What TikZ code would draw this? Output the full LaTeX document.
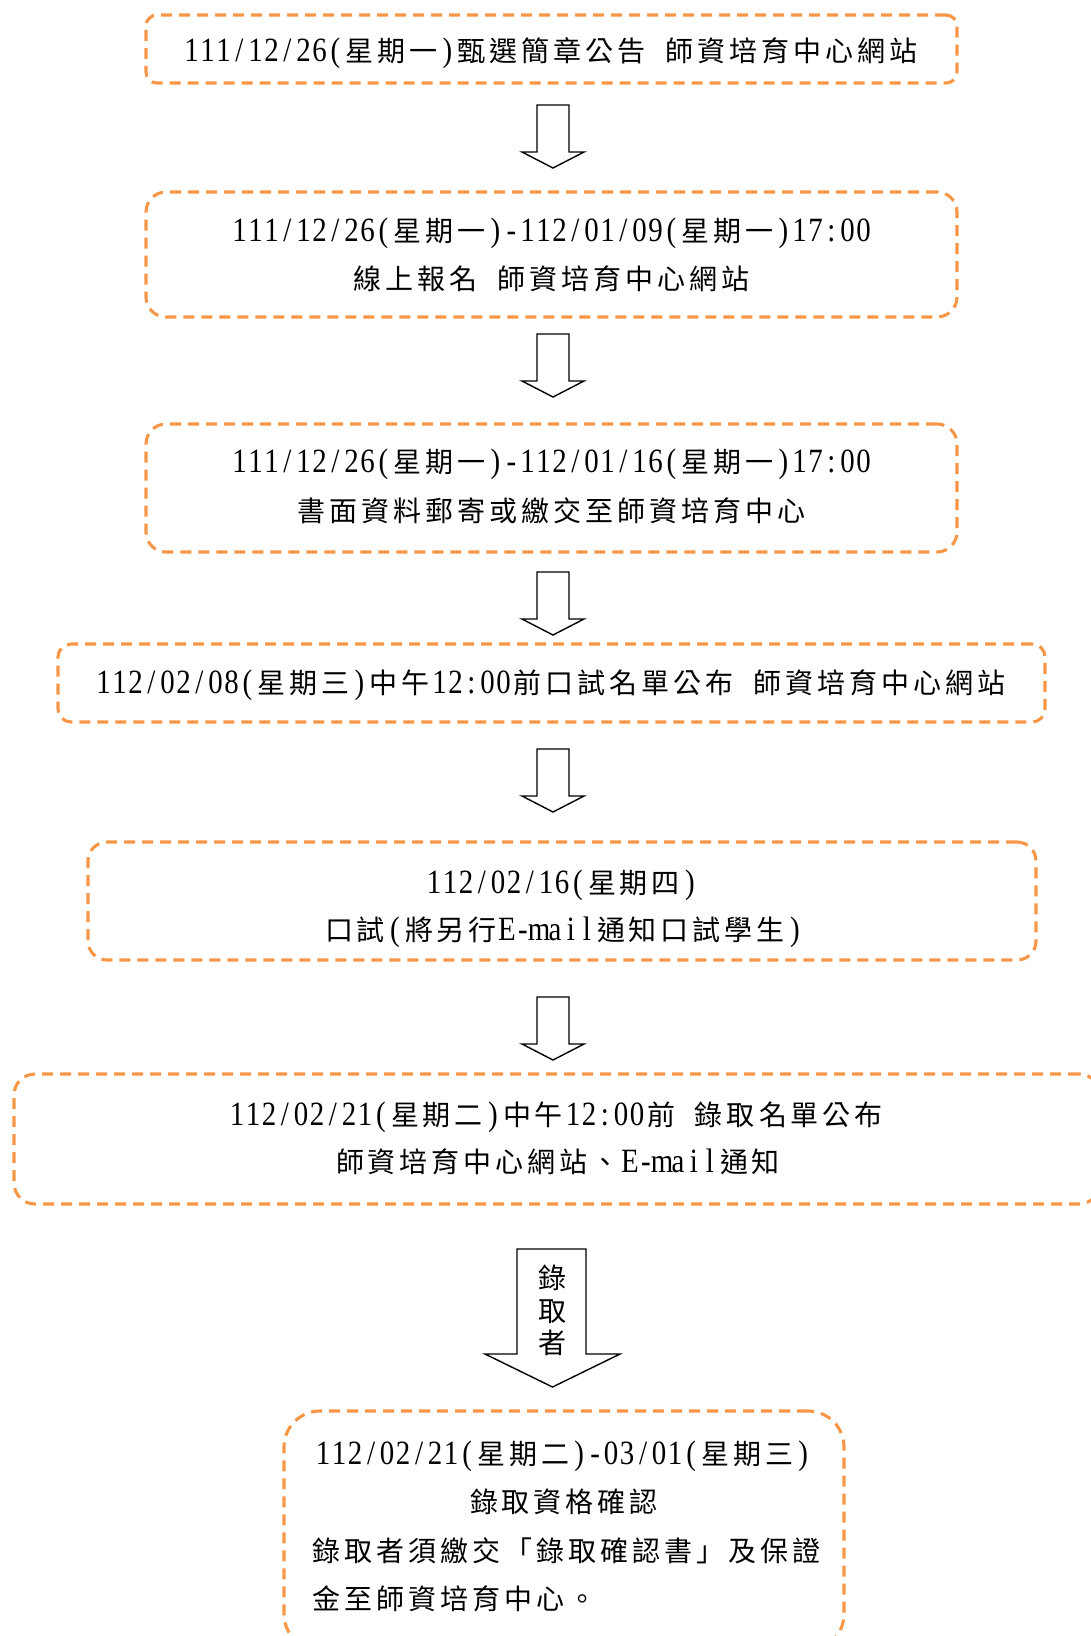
\documentclass[tikz,border=0pt]{standalone}
\usepackage{fontspec}
\setmainfont[FakeStretch=0.85]{Liberation Serif}
\newfontfamily\cjkfont{Noto Sans CJK TC}
\definecolor{boxorange}{RGB}{247,150,70}
\newcommand\Lrun[1]{\LRloop#1\relax}
\def\LRloop#1{\ifx#1\relax\else\makebox[16pt]{\fontsize{34}{34}\selectfont#1}\expandafter\LRloop\fi}
\newcommand\Crun[1]{\CRloop#1\relax}
\def\CRloop#1{\ifx#1\relax\else\makebox[32pt]{\cjkfont\fontsize{28}{28}\selectfont#1}\expandafter\CRloop\fi}
\newcommand\hsp{\hspace*{16pt}}
\tikzset{
  stagebox/.style={draw=boxorange, line width=3.1pt, dash pattern=on 11pt off 7pt, rounded corners=#1, inner sep=0pt},
  txt/.style={inner sep=0pt, text=black, anchor=base},
  txtl/.style={inner sep=0pt, text=black, anchor=base west},
  blockarrow/.style={draw=black, line width=1.4pt, fill=white, line join=miter}
}
\newcommand\smallarrow[2]{%
  \draw[blockarrow] (#1-16,#2) -- (#1+16,#2) -- (#1+16,#2+47) -- (#1+31,#2+47) -- (#1,#2+63) -- (#1-31,#2+47) -- (#1-16,#2+47) -- cycle;}
\begin{document}
\begin{tikzpicture}[x=1pt,y=-1pt]
\useasboundingbox (0,0) rectangle (1091,1636);
\clip (0,0) rectangle (1091,1636);
% boxes
\node[stagebox=11, minimum width=811pt, minimum height=68pt] (b1) at (551.5,49) {};
\node[stagebox=20, minimum width=811pt, minimum height=125pt] (b2) at (551.5,254.5) {};
\node[stagebox=20, minimum width=811pt, minimum height=128pt] (b3) at (551.5,488) {};
\node[stagebox=13, minimum width=987pt, minimum height=78pt] (b4) at (551.5,683) {};
\node[stagebox=19, minimum width=948pt, minimum height=118pt] (b5) at (562,901) {};
\node[stagebox=21, minimum width=1086pt, minimum height=130pt] (b6) at (557,1139) {};
\node[stagebox=36, minimum width=560pt, minimum height=239pt] (b7) at (564,1530.5) {};
% texts
\node[txt] (t1) at (551.5,61) {\Lrun{111/12/26(}\Crun{星期一}\Lrun{)}\Crun{甄選簡章公告}\hsp\Crun{師資培育中心網站}};
\node[txt] (t2a) at (551.5,241) {\Lrun{111/12/26(}\Crun{星期一}\Lrun{)-112/01/09(}\Crun{星期一}\Lrun{)17:00}};
\node[txt] (t2b) at (551.5,289) {\Crun{線上報名}\hsp\Crun{師資培育中心網站}};
\node[txt] (t3a) at (551.5,472) {\Lrun{111/12/26(}\Crun{星期一}\Lrun{)-112/01/16(}\Crun{星期一}\Lrun{)17:00}};
\node[txt] (t3b) at (551.5,521) {\Crun{書面資料郵寄或繳交至師資培育中心}};
\node[txt] (t4) at (551.5,693) {\Lrun{112/02/08(}\Crun{星期三}\Lrun{)}\Crun{中午}\Lrun{12:00}\Crun{前口試名單公布}\hsp\Crun{師資培育中心網站}};
\node[txt] (t5a) at (562,893) {\Lrun{112/02/16(}\Crun{星期四}\Lrun{)}};
\node[txt] (t5b) at (563,940) {\Crun{口試}\Lrun{(}\Crun{將另行}\Lrun{E-mail}\Crun{通知口試學生}\Lrun{)}};
\node[txt] (t6a) at (557,1125) {\Lrun{112/02/21(}\Crun{星期二}\Lrun{)}\Crun{中午}\Lrun{12:00}\Crun{前}\hsp\Crun{錄取名單公布}};
\node[txt] (t6b) at (558,1172) {\Crun{師資培育中心網站、}\Lrun{E-mail}\Crun{通知}};
\node[txtl] (t7a) at (315,1464) {\Lrun{112/02/21(}\Crun{星期二}\Lrun{)-03/01(}\Crun{星期三}\Lrun{)}};
\node[txt] (t7b) at (564,1512) {\Crun{錄取資格確認}};
\node[txtl] (t7c) at (310,1561) {\Crun{錄取者須繳交「錄取確認書」及保證}};
\node[txtl] (t7d) at (310,1609) {\Crun{金至師資培育中心。}};
% small arrows
\smallarrow{553}{105}
\smallarrow{553}{334}
\smallarrow{553}{572}
\smallarrow{553}{749}
\smallarrow{553}{997}
% big arrow
\draw[blockarrow] (517,1249) -- (586,1249) -- (586,1354) -- (620,1354) -- (552.5,1387) -- (485,1354) -- (517,1354) -- cycle;
\node[txt] (a1) at (552,1288) {\Crun{錄}};
\node[txt] (a2) at (552,1321) {\Crun{取}};
\node[txt] (a3) at (552,1353) {\Crun{者}};
\end{tikzpicture}
\end{document}
